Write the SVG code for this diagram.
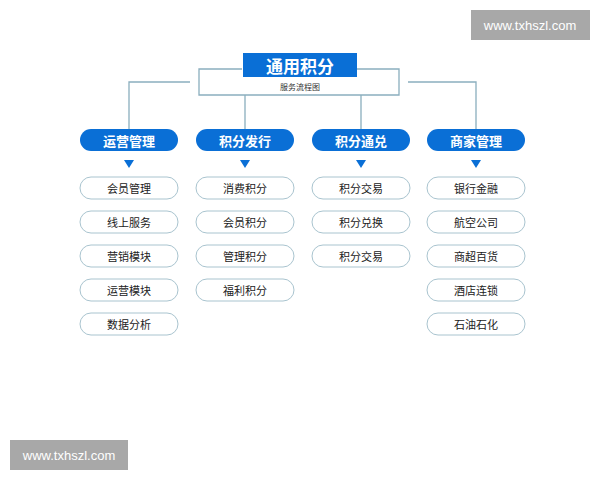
<svg xmlns="http://www.w3.org/2000/svg" width="600" height="480" viewBox="0 0 600 480">
<style>
text{font-family:"Noto Sans CJK SC","Liberation Sans",sans-serif;text-anchor:middle;dominant-baseline:central}
.h{fill:#0a6fd6}.ht{fill:#fff;font-size:13px;font-weight:bold}
.o{fill:#fff;stroke:#a9c4cf;stroke-width:1}.ot{fill:#222;font-size:11px}
.c{fill:none;stroke:#8aaebe;stroke-width:1.3}
.w{fill:#a8a8a8}.wt{fill:#fff;font-size:13px;font-family:"Liberation Sans",sans-serif}
</style>
<rect width="600" height="480" fill="#fff"/>
<g id="connectors">
<path class="c" d="M242 69H199V95H399V69H357"/>
<path class="c" d="M190 82H129V130M408 82H476V130M245 95V130M361 95V130"/>
</g>
<g id="title"><rect x="243" y="53" width="114" height="24" class="h"/><text x="300" y="65" fill="#fff" font-size="17" font-weight="bold">通用积分</text><text x="300" y="86" font-size="8" fill="#333">服务流程图</text></g>
<g id="col1"><rect x="80" y="129" width="98" height="22" rx="11" class="h"/><text x="129" y="140" class="ht">运营管理</text><path d="M124 160h10l-5 8z" class="h"/>
<rect x="80" y="177" width="98" height="22" rx="11" class="o"/><text x="129" y="188" class="ot">会员管理</text>
<rect x="80" y="211" width="98" height="22" rx="11" class="o"/><text x="129" y="222" class="ot">线上服务</text>
<rect x="80" y="245" width="98" height="22" rx="11" class="o"/><text x="129" y="256" class="ot">营销模块</text>
<rect x="80" y="279" width="98" height="22" rx="11" class="o"/><text x="129" y="290" class="ot">运营模块</text>
<rect x="80" y="313" width="98" height="22" rx="11" class="o"/><text x="129" y="324" class="ot">数据分析</text></g>
<g id="col2"><rect x="196" y="129" width="98" height="22" rx="11" class="h"/><text x="245" y="140" class="ht">积分发行</text><path d="M240 160h10l-5 8z" class="h"/>
<rect x="196" y="177" width="98" height="22" rx="11" class="o"/><text x="245" y="188" class="ot">消费积分</text>
<rect x="196" y="211" width="98" height="22" rx="11" class="o"/><text x="245" y="222" class="ot">会员积分</text>
<rect x="196" y="245" width="98" height="22" rx="11" class="o"/><text x="245" y="256" class="ot">管理积分</text>
<rect x="196" y="279" width="98" height="22" rx="11" class="o"/><text x="245" y="290" class="ot">福利积分</text></g>
<g id="col3"><rect x="312" y="129" width="98" height="22" rx="11" class="h"/><text x="361" y="140" class="ht">积分通兑</text><path d="M356 160h10l-5 8z" class="h"/>
<rect x="312" y="177" width="98" height="22" rx="11" class="o"/><text x="361" y="188" class="ot">积分交易</text>
<rect x="312" y="211" width="98" height="22" rx="11" class="o"/><text x="361" y="222" class="ot">积分兑换</text>
<rect x="312" y="245" width="98" height="22" rx="11" class="o"/><text x="361" y="256" class="ot">积分交易</text></g>
<g id="col4"><rect x="427" y="129" width="98" height="22" rx="11" class="h"/><text x="476" y="140" class="ht">商家管理</text><path d="M471 160h10l-5 8z" class="h"/>
<rect x="427" y="177" width="98" height="22" rx="11" class="o"/><text x="476" y="188" class="ot">银行金融</text>
<rect x="427" y="211" width="98" height="22" rx="11" class="o"/><text x="476" y="222" class="ot">航空公司</text>
<rect x="427" y="245" width="98" height="22" rx="11" class="o"/><text x="476" y="256" class="ot">商超百货</text>
<rect x="427" y="279" width="98" height="22" rx="11" class="o"/><text x="476" y="290" class="ot">酒店连锁</text>
<rect x="427" y="313" width="98" height="22" rx="11" class="o"/><text x="476" y="324" class="ot">石油石化</text></g>
<g id="wm"><rect x="471" y="10" width="119" height="30" class="w"/><text x="530" y="25" class="wt">www.txhszl.com</text>
<rect x="10" y="440" width="118" height="30" class="w"/><text x="69" y="455" class="wt">www.txhszl.com</text></g>
</svg>
